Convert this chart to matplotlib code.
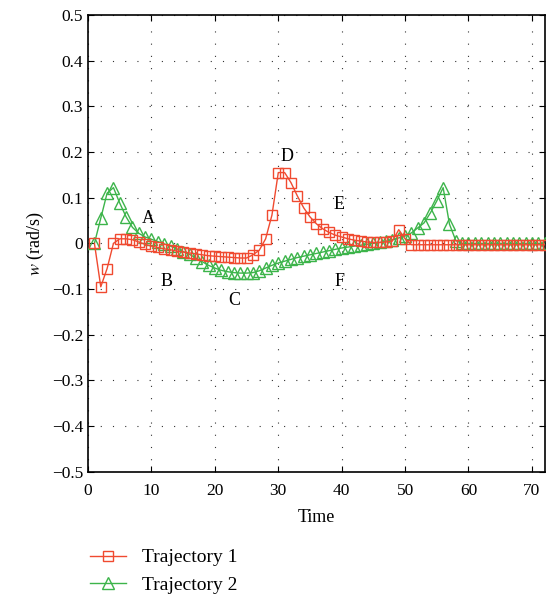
import numpy as np
import matplotlib
matplotlib.use("Agg")
import matplotlib.pyplot as plt

plt.rcParams['font.family'] = ['Liberation Serif', 'DejaVu Serif']
plt.rcParams['mathtext.fontset'] = 'stix'

time = list(range(1, 73))

traj1 = [0.0, -0.095, -0.055, 0.0, 0.01, 0.01, 0.008, 0.003, -0.002, -0.006,
         -0.009, -0.012, -0.014, -0.017, -0.019, -0.021, -0.023, -0.025, -0.027, -0.028,
         -0.029, -0.030, -0.031, -0.032, -0.032, -0.025, -0.015, 0.01, 0.062, 0.155,
         0.155, 0.133, 0.104, 0.078, 0.058, 0.043, 0.032, 0.024, 0.018, 0.014,
         0.01, 0.007, 0.005, 0.003, 0.002, 0.002, 0.003, 0.005, 0.03, 0.01,
         -0.003] + [-0.003] * 21

traj2 = [0.0, 0.055, 0.11, 0.122, 0.088, 0.058, 0.035, 0.022, 0.014, 0.009,
         0.004, -0.001, -0.006, -0.012, -0.018, -0.024, -0.032, -0.04, -0.048, -0.054,
         -0.059, -0.062, -0.064, -0.065, -0.065, -0.064, -0.06, -0.054, -0.048, -0.043,
         -0.039, -0.035, -0.031, -0.028, -0.025, -0.022, -0.019, -0.016, -0.013, -0.01,
         -0.008, -0.006, -0.004, -0.002, 0.0, 0.002, 0.005, 0.008, 0.012, 0.016,
         0.023, 0.034, 0.045, 0.067, 0.093, 0.122, 0.042, 0.006] + [0.0] * 14

labels = ['A', 'B', 'C', 'D', 'E', 'F']
label_x = [9.5, 12.3, 23.0, 31.3, 39.5, 39.7]
label_y = [0.055, -0.084, -0.124, 0.19, 0.086, -0.084]

red = '#f04a30'
green = '#3cb44a'

fig = plt.figure(figsize=(5.54, 5.98), dpi=100)
ax = fig.add_axes([0.159, 0.211, 0.824, 0.764])

ax.plot(time, traj2, '-^', color=green, mfc='none', ms=8.5, lw=1.0, mew=1.0,
        label='Trajectory 2', zorder=3)
ax.plot(time, traj1, '-s', color=red, mfc='none', ms=7.5, lw=1.0, mew=1.0,
        label='Trajectory 1', zorder=4)

for t, x, y in zip(labels, label_x, label_y):
    ax.text(x, y, t, fontsize=13, ha='center', va='center')

ax.set_xlim(0, 72)
ax.set_ylim(-0.5, 0.5)
ax.set_xticks(np.arange(0, 71, 10))
ax.set_yticks(np.arange(-0.5, 0.51, 0.1))
ax.set_yticklabels(['\u22120.5', '\u22120.4', '\u22120.3', '\u22120.2', '\u22120.1', '0',
                    '0.1', '0.2', '0.3', '0.4', '0.5'])
ax.tick_params(direction='in', top=True, right=True, labelsize=12.5, length=4)
ax.tick_params(axis='x', pad=8)
ax.grid(True, color='#333333', linestyle=(0, (1, 10)), linewidth=0.8)
ax.set_xlabel('Time', fontsize=13, labelpad=7)
ax.set_ylabel('$w$ (rad/s)', fontsize=13)
for s in ax.spines.values():
    s.set_linewidth(1.2)

h, l = ax.get_legend_handles_labels()
fig.legend(h[::-1], l[::-1], loc='lower left', bbox_to_anchor=(0.13, -0.022),
           frameon=False, fontsize=14, handlelength=1.9, handletextpad=0.8,
           labelspacing=0.5)

fig.savefig('out.png', dpi=100)
